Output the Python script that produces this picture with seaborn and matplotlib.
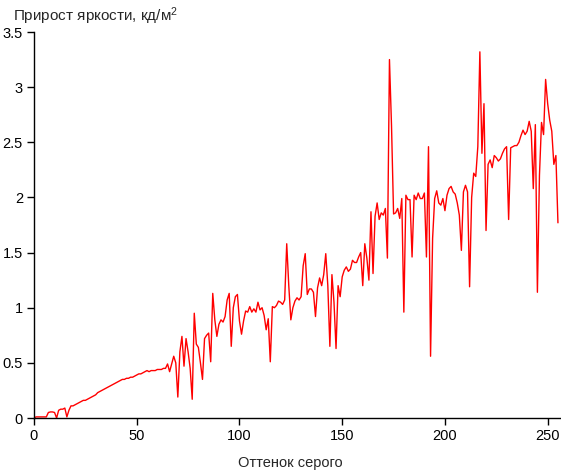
import numpy as np
import pandas as pd
import matplotlib
matplotlib.use("Agg")
import matplotlib.pyplot as plt
from matplotlib.ticker import FuncFormatter, MultipleLocator
import seaborn as sns

# Gray level increments (brightness gain, cd/m^2) for gray levels 0..255
gain = [
    0.00, 0.01, 0.01, 0.01, 0.01, 0.01, 0.01, 0.05, 0.055, 0.055,
    0.05, 0.00, 0.07, 0.08, 0.08, 0.09, 0.01, 0.07, 0.11, 0.11,
    0.12, 0.13, 0.14, 0.15, 0.16, 0.16, 0.17, 0.18, 0.19, 0.20,
    0.21, 0.23, 0.24, 0.25, 0.26, 0.27, 0.28, 0.29, 0.30, 0.31,
    0.32, 0.33, 0.34, 0.35, 0.35, 0.36, 0.36, 0.37, 0.37, 0.38,
    0.39, 0.40, 0.40, 0.41, 0.42, 0.43, 0.42, 0.43, 0.43, 0.43,
    0.44, 0.44, 0.44, 0.45, 0.45, 0.49, 0.42, 0.49, 0.56, 0.50,
    0.19, 0.60, 0.74, 0.47, 0.72, 0.60, 0.45, 0.17, 0.95, 0.67,
    0.64, 0.50, 0.35, 0.72, 0.75, 0.77, 0.51, 1.13, 0.89, 0.74,
    0.85, 0.89, 0.87, 0.92, 1.07, 1.13, 0.65, 1.00, 1.10, 1.12,
    0.88, 0.76, 0.88, 0.97, 0.96, 1.01, 0.96, 0.99, 0.96, 1.05,
    0.98, 1.00, 0.93, 0.80, 0.90, 0.51, 1.01, 1.00, 1.02, 1.06,
    1.05, 1.03, 1.07, 1.58, 1.20, 0.89, 1.00, 1.06, 1.09, 1.07,
    1.10, 1.38, 1.49, 1.12, 1.17, 1.17, 1.14, 0.92, 1.18, 1.27,
    1.20, 1.30, 1.49, 1.20, 0.65, 1.30, 1.05, 0.63, 1.20, 1.10,
    1.28, 1.34, 1.37, 1.33, 1.35, 1.43, 1.41, 1.41, 1.46, 1.50,
    1.20, 1.58, 1.45, 1.25, 1.87, 1.31, 1.83, 1.95, 1.80, 1.86,
    1.84, 1.90, 1.45, 3.25, 2.65, 1.85, 1.86, 1.90, 1.81, 1.99,
    0.96, 2.02, 1.98, 1.98, 1.46, 2.02, 1.98, 2.04, 1.99, 1.99,
    2.04, 1.46, 2.46, 0.56, 1.63, 1.99, 2.06, 1.95, 1.93, 1.99,
    1.88, 2.02, 2.08, 2.10, 2.05, 2.03, 1.95, 1.84, 1.52, 2.05,
    2.11, 2.05, 1.19, 2.00, 2.22, 2.19, 2.46, 3.32, 2.40, 2.85,
    1.70, 2.30, 2.34, 2.27, 2.38, 2.36, 2.33, 2.35, 2.40, 2.44,
    2.46, 1.80, 2.45, 2.46, 2.47, 2.47, 2.50, 2.56, 2.61, 2.57,
    2.60, 2.69, 2.60, 2.08, 2.66, 1.14, 2.20, 2.68, 2.57, 3.07,
    2.85, 2.70, 2.60, 2.30, 2.38, 1.77,
]
gray = list(range(len(gain)))

x_ticks = [0, 50, 100, 150, 200, 250]
title = "Прирост яркости, кд/м$^2$"
xlabel = "Оттенок серого"

sns.set_style("ticks")
plt.rcParams["font.family"] = ["Liberation Sans", "DejaVu Sans"]
plt.rcParams["font.size"] = 10.5
plt.rcParams["mathtext.fontset"] = "custom"
plt.rcParams["mathtext.rm"] = "Liberation Sans"
plt.rcParams["mathtext.it"] = "Liberation Sans"
plt.rcParams["mathtext.default"] = "regular"

df = pd.DataFrame({"gray": gray, "gain": gain})

fig = plt.figure(figsize=(5.61, 4.71), dpi=100)
ax = fig.add_axes([34 / 561, 53 / 471, (560 - 34) / 561, (418 - 32) / 471])

sns.lineplot(data=df, x="gray", y="gain", color="#ff0000", linewidth=1.0, ax=ax)

ax.set_xlim(0, 256)
ax.set_ylim(0, 3.5)
ax.set_xticks(x_ticks)
ax.yaxis.set_major_locator(MultipleLocator(0.5))
ax.yaxis.set_major_formatter(FuncFormatter(lambda v, p: f"{v:g}"))
ax.tick_params(axis="both", length=5, width=1, color="black", labelsize=10.5,
               labelcolor="black", pad=3)
for s in ["left", "bottom"]:
    ax.spines[s].set_color("black")
    ax.spines[s].set_linewidth(1)
sns.despine(ax=ax)
ax.set_xlabel("")
ax.set_ylabel("")

fig.text(13 / 561, 1 - 21 / 471, title, ha="left", va="baseline", fontsize=11)
fig.text(290 / 561, 1 - 467 / 471, xlabel, ha="center", va="baseline", fontsize=10.5)

fig.savefig("out.png", dpi=100)
